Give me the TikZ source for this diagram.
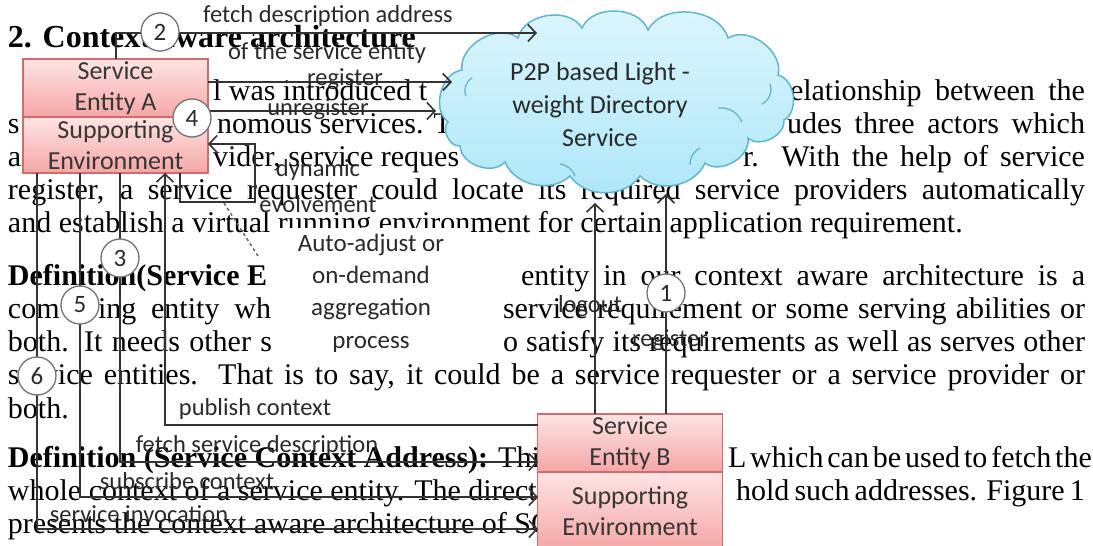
\documentclass[tikz,border=0pt]{standalone}
\usepackage{fontspec}
\setmainfont{Liberation Serif}
\newfontfamily\dgfont{Carlito}
\usetikzlibrary{arrows.meta}
\definecolor{linec}{HTML}{333333}
\definecolor{labc}{HTML}{2A2A2A}
\definecolor{boxtxt}{HTML}{363636}
\definecolor{pinkL}{HTML}{FDE4E4}
\definecolor{pinkD}{HTML}{F5A6A6}
\definecolor{pinkB}{HTML}{D46A6A}
\definecolor{cloudL}{HTML}{DDF6FD}
\definecolor{cloudD}{HTML}{AEE7F8}
\definecolor{cloudB}{HTML}{5FB6D3}
\newcommand\jl[2]{{\spaceskip=0.25em plus 1.5em minus 0.12em\makebox[#1pt][s]{#2}}}
\tikzset{
  body/.style={anchor=base west, inner sep=0pt, outer sep=0pt, font=\fontsize{30}{33}\selectfont},
  head/.style={anchor=base west, inner sep=0pt, outer sep=0pt, font=\fontsize{32}{36}\selectfont\bfseries},
  pinkbox/.style={draw=pinkB, line width=1.2pt, top color=pinkL, bottom color=pinkD, text=boxtxt,
    align=center, inner sep=0pt, minimum width=185pt, font=\dgfont\fontsize{26}{31}\selectfont},
  cloudbody/.style={draw=cloudB, line width=1.5pt, top color=cloudL, bottom color=cloudD},
  puff/.style={bend left=68},
  lowpuff/.style={bend left=55},
  innerarc/.style={draw=cloudB, line width=1.3pt},
  dirtext/.style={text=labc, align=center, inner sep=0pt, font=\dgfont\fontsize{26}{33}\selectfont},
  num/.style={circle, draw=black!55, line width=1.3pt, fill=white, minimum size=38pt, inner sep=0pt,
    text=labc, font=\dgfont\fontsize{25}{25}\selectfont},
  lab/.style={inner sep=0pt, text=labc, font=\dgfont\fontsize{24.5}{24.5}\selectfont},
  arr/.style={draw=linec, line width=2pt, -{Straight Barb[length=8pt,width=17pt,line width=1.6pt]}},
  dashline/.style={draw=black!60, line width=1.5pt, dashed},
  procbox/.style={fill=white, minimum width=198pt, minimum height=130pt, align=center, text=labc,
    inner sep=0pt, font=\dgfont\fontsize{25}{32.3}\selectfont}
}
\begin{document}
\begin{tikzpicture}[x=1pt,y=-1pt]
\useasboundingbox (0,0) rectangle (1093,546);
\fill[white] (0,0) rectangle (1093,546);

% ---- background paper text (visible parts) ----
\node[head] (h) at (8,47) {2. Context aware architecture};
\node[body] (t1a) at (213,100) {l was introduced t};
\node[body] (t1b) at (790,100) {\jl{295}{elationship between the}};
\node[body] (t2a) at (8,133) {s};
\node[body] (t2b) at (217,133) {nomous services. T};
\node[body] (t2c) at (787,133) {\jl{298}{udes three actors which}};
\node[body] (t3a) at (8,166) {a};
\node[body] (t3b) at (213,166) {vider, service reques};
\node[body] (t3c) at (743,166) {\jl{342}{r. With the help of service}};
\node[body] (t4) at (8,199) {\jl{1077}{register, a service requester could locate its required service providers automatically}};
\node[body] (t5) at (8,232) {and establish a virtual running environment for certain application requirement.};
\node[body] (t6a) at (8,285) {\bfseries Definition(Service E};
\node[body] (t6b) at (521,285) {\jl{564}{entity in our context aware architecture is a}};
\node[body] (t7a) at (8,318) {com};
\node[body] (t7b) at (98,318) {\jl{173}{ing entity wh}};
\node[body] (t7c) at (503,318) {\jl{582}{service requirement or some serving abilities or}};
\node[body] (t8a) at (8,351) {\jl{264}{both. It needs other s}};
\node[body] (t8b) at (503,351) {\jl{582}{o satisfy its requirements as well as serves other}};
\node[body] (t9) at (8,384) {\jl{1077}{service entities. That is to say, it could be a service requester or a service provider or}};
\node[body] (t10) at (8,418) {both.};
\node[body] (t11a) at (8,467) {\textbf{Definition (Service Context Address):} This};
\node[body] (t11b) at (728,467) {\jl{357}{L which can be used to fetch the}};
\node[body] (t12a) at (8,500) {whole context of a service entity. The direct};
\node[body] (t12b) at (736,500) {\jl{349}{hold such addresses. Figure 1}};
\node[body] (t13) at (8,533) {presents the context aware architecture of SOC};

% ---- diagram: directory cloud ----
\path[cloudbody] (448,122) to[puff] (462,70) to[puff] (518,38) to[puff] (582,28)
  to[puff] (648,30) to[puff] (728,38) to[puff] (778,75) to[puff] (784,120)
  to[puff] (748,138) to[puff] (705,163) to[lowpuff] (640,176) to[lowpuff] (570,176)
  to[lowpuff] (505,162) to[puff] (460,146) to[puff] (448,122) -- cycle;
\draw[innerarc] (472,78) to[bend right=40] (466,96);
\draw[innerarc] (770,84) to[bend left=40] (762,104);
\draw[innerarc] (718,108) to[bend left=35] (742,122);
\draw[innerarc] (700,148) to[bend right=30] (690,165);
\draw[innerarc] (560,164) to[bend left=30] (575,176);
\node[dirtext] (dir) at (600,105) {P2P based Light -\\weight Directory\\Service};

\node[pinkbox, minimum height=58pt] (seA) at (115.5,88) {Service\\Entity A};
\node[pinkbox, minimum height=56pt] (spA) at (115.5,145) {Supporting\\Environment};
\node[pinkbox, minimum height=58pt] (seB) at (630,443) {Service\\Entity B};
\node[pinkbox, minimum height=78pt] (spB) at (630,511) {Supporting\\Environment};

\node[procbox] (agg) at (371,293) {Auto-adjust or\\on-demand\\aggregation\\process};

% connection points
\coordinate (fdS) at (116,59);
\coordinate (fdE) at (537,33);
\coordinate (rgS) at (208,82);
\coordinate (rgE) at (452,82);
\coordinate (urS) at (208,111);
\coordinate (urE) at (436,111);
\coordinate (dyS) at (180,173);
\coordinate (dyE) at (208,144);
\coordinate (dsS) at (224,203);
\coordinate (dsE) at (258,256);
\coordinate (pbS) at (538,425);
\coordinate (pbE) at (165,173);
\coordinate (fsS) at (120,173);
\coordinate (fsE) at (538,462);
\coordinate (scS) at (80,173);
\coordinate (scE) at (538,497);
\coordinate (siS) at (37,173);
\coordinate (siE) at (538,529);
\coordinate (loS) at (595,414);
\coordinate (loE) at (595,203);
\coordinate (rbS) at (666,414);
\coordinate (rbE) at (666,194);

\draw[arr] (fdS) |- (fdE);
\draw[arr] (rgS) -- (rgE);
\draw[arr] (urS) -- (urE);
\draw[arr] (dyS) -- (180,202) -- (255,202) -- (255,144) -- (dyE);
\draw[dashline] (dsS) -- (dsE);
\draw[arr] (pbS) -| (pbE);
\draw[arr] (fsS) |- (fsE);
\draw[arr] (scS) |- (scE);
\draw[arr] (siS) |- (siE);
\draw[arr] (loS) -- (loE);
\draw[arr] (rbS) -- (rbE);

% labels
\node[lab] (l1) at (328,16) {fetch description address};
\node[lab] (l2) at (327,53) {of the service entity};
\node[lab] (l3) at (345,79) {register};
\node[lab] (l4) at (318,109) {unregister};
\node[lab] (l5) at (318,170) {dynamic};
\node[lab] (l6) at (318,204) {evolvement};
\node[lab] (l7) at (255,409) {publish context};
\node[lab] (l8) at (257,446) {fetch service description};
\node[lab] (l9) at (187,481) {subscribe context};
\node[lab] (l10) at (139,514) {service invocation};
\node[lab] (l11) at (590,306) {logout};
\node[lab] (l12) at (670,340) {register};

% step numbers
\node[num] (n1) at (666,293) {1};
\node[num] (n2) at (160,32) {2};
\node[num] (n3) at (120,258) {3};
\node[num] (n4) at (192,118) {4};
\node[num] (n5) at (80,305) {5};
\node[num] (n6) at (37,376) {6};
\end{tikzpicture}
\end{document}
